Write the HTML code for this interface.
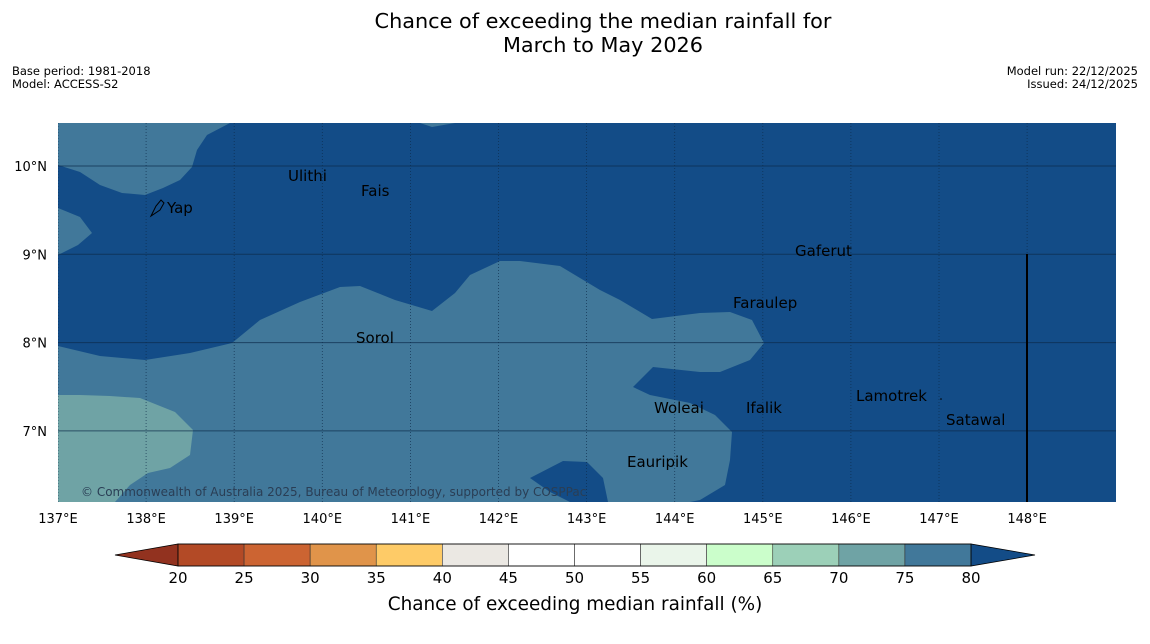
<!DOCTYPE html>
<html><head><meta charset="utf-8">
<style>
html,body{margin:0;padding:0;background:#fff;width:1150px;height:644px;overflow:hidden;font-family:"DejaVu Sans","Liberation Sans",sans-serif;}
svg{display:block}
</style></head>
<body>
<svg id="chart" width="1150" height="644" xmlns="http://www.w3.org/2000/svg" font-family="DejaVu Sans, Liberation Sans, sans-serif">
<text x="603" y="28" font-size="20.8" text-anchor="middle" fill="#000">Chance of exceeding the median rainfall for</text>
<text x="603" y="52" font-size="20.8" text-anchor="middle" fill="#000">March to May 2026</text>
<text x="12" y="75" font-size="11.5">Base period: 1981-2018</text>
<text x="12" y="88" font-size="11.5">Model: ACCESS-S2</text>
<text x="1138" y="75" font-size="11.5" text-anchor="end">Model run: 22/12/2025</text>
<text x="1138" y="88" font-size="11.5" text-anchor="end">Issued: 24/12/2025</text>

<g>
<defs><clipPath id="mc"><rect x="58" y="123" width="1058" height="379"/></clipPath></defs>
<g clip-path="url(#mc)">
<rect x="58" y="123" width="1058" height="379" fill="#134c87"/>
<polygon fill="#41789a" points="58,123 230,123 207,135 197,150 192,167 180,180 163,188 145,195 122,193 100,185 80,172 58,165"/>
<polygon fill="#41789a" points="58,208 80,217 92,233 78,245 58,255"/>
<polygon fill="#41789a" points="420,123 432,127 455,123"/>
<polygon fill="#41789a" points="58,346 100,356 145,360 190,353 232,343 260,320 300,302 340,287 360,286 395,300 432,311 455,293 470,275 500,261 520,261 560,266 580,278 600,290 620,300 652,319 700,313 730,312 752,320 764,343 750,360 720,372 700,372 653,367 633,387 650,395 690,403 715,415 732,432 730,460 725,485 700,500 690,502 58,502"/>
<polygon fill="#134c87" points="530,478 563,461 587,462 603,478 608,502 570,502 550,492"/>
<polygon fill="#6fa3a5" points="58,395 80,395 110,396 140,398 175,412 193,430 190,455 170,468 148,473 130,485 115,502 58,502"/>
<g id="grid"></g>
<line x1="1027" y1="254" x2="1027" y2="502" stroke="#000" stroke-width="2"/>
</g>
<g font-size="15" fill="#000">
<path d="M151,216 L156,206 L161,200 L164,203 L160,210 Z" fill="none" stroke="#000" stroke-width="1"/>
<text x="167" y="213">Yap</text>
<text x="288" y="181">Ulithi</text>
<text x="361" y="196">Fais</text>
<text x="795" y="256">Gaferut</text>
<text x="733" y="308">Faraulep</text>
<text x="356" y="343">Sorol</text>
<text x="856" y="401">Lamotrek</text>
<text x="654" y="413">Woleai</text>
<text x="746" y="413">Ifalik</text>
<text x="946" y="425">Satawal</text>
<text x="627" y="467">Eauripik</text>
<circle cx="941" cy="399" r="0.8" fill="#000"/>
</g>
<text x="81" y="496" font-size="12" fill="#2a3e55">© Commonwealth of Australia 2025, Bureau of Meteorology, supported by COSPPac</text>
<g id="axes" font-size="13"></g>
</g>

<g id="cbar"></g>
<text x="575" y="610" font-size="18.4" text-anchor="middle">Chance of exceeding median rainfall (%)</text>
</svg>
<script>
const lonTicks = [137,138,139,140,141,142,143,144,145,146,147,148];
const latTicks = [10,9,8,7];
const cbTicks = [20,25,30,35,40,45,50,55,60,65,70,75,80];
const cbColors = ["#b34a26","#cc6432","#e0944a","#fecb67","#ebe8e3","#ffffff","#ffffff","#eaf5ea","#cbfecb","#9cd0b8","#6fa3a5","#41789a"];
const cbLow = "#92321f", cbHigh = "#134c87";

const NS="http://www.w3.org/2000/svg";
function mk(tag, attrs, parent){const e=document.createElementNS(NS,tag);for(const k in attrs)e.setAttribute(k,attrs[k]);parent.appendChild(e);return e;}
const xLon = lon => 58 + (lon-137)*88.1;
const yLat = lat => 166 + (10-lat)*88.3;
const grid=document.getElementById('grid'), axes=document.getElementById('axes');
lonTicks.forEach(l=>{
  const ln=mk('line',{x1:xLon(l),x2:xLon(l),y1:123,y2:502,stroke:'#0d2b4a','stroke-width':0.8,'stroke-dasharray':'1,2','stroke-opacity':0.8},grid);
  
  
  const t=mk('text',{x:xLon(l),y:523,'text-anchor':'middle'},axes);
  t.textContent=l+'°E';
  
  
});
latTicks.forEach(l=>{
  const ln=mk('line',{x1:58,x2:1116,y1:yLat(l),y2:yLat(l),stroke:'#0d2b4a','stroke-width':1,'stroke-opacity':0.7},grid);
  
  
  const t=mk('text',{x:47,y:yLat(l)+5,'text-anchor':'end'},axes);
  t.textContent=l+'°N';
  
  
});
const cb=document.getElementById('cbar');
const x0=178,x1=971,y0=544,y1=566;
const xv=v=>x0+(v-cbTicks[0])/(cbTicks[cbTicks.length-1]-cbTicks[0])*(x1-x0);
const lo=mk('polygon',{points:`${x0},${y0} ${x0},${y1} 115,555`,fill:cbLow,stroke:'#000','stroke-width':0.8},cb);


const hi=mk('polygon',{points:`${x1},${y0} ${x1},${y1} 1035,555`,fill:cbHigh,stroke:'#000','stroke-width':0.8},cb);


cbColors.forEach((c,i)=>{
  const r=mk('rect',{x:xv(cbTicks[i]),y:y0,width:xv(cbTicks[i+1])-xv(cbTicks[i]),height:y1-y0,fill:c,stroke:'#333','stroke-width':0.6},cb);
  
  
});
mk('rect',{x:x0,y:y0,width:x1-x0,height:y1-y0,fill:'none',stroke:'#000','stroke-width':0.8},cb);
cbTicks.forEach(v=>{
  const t=mk('text',{x:xv(v),y:583,'text-anchor':'middle','font-size':15},cb);
  t.textContent=v;
  
  
});
</script>
</body></html>
